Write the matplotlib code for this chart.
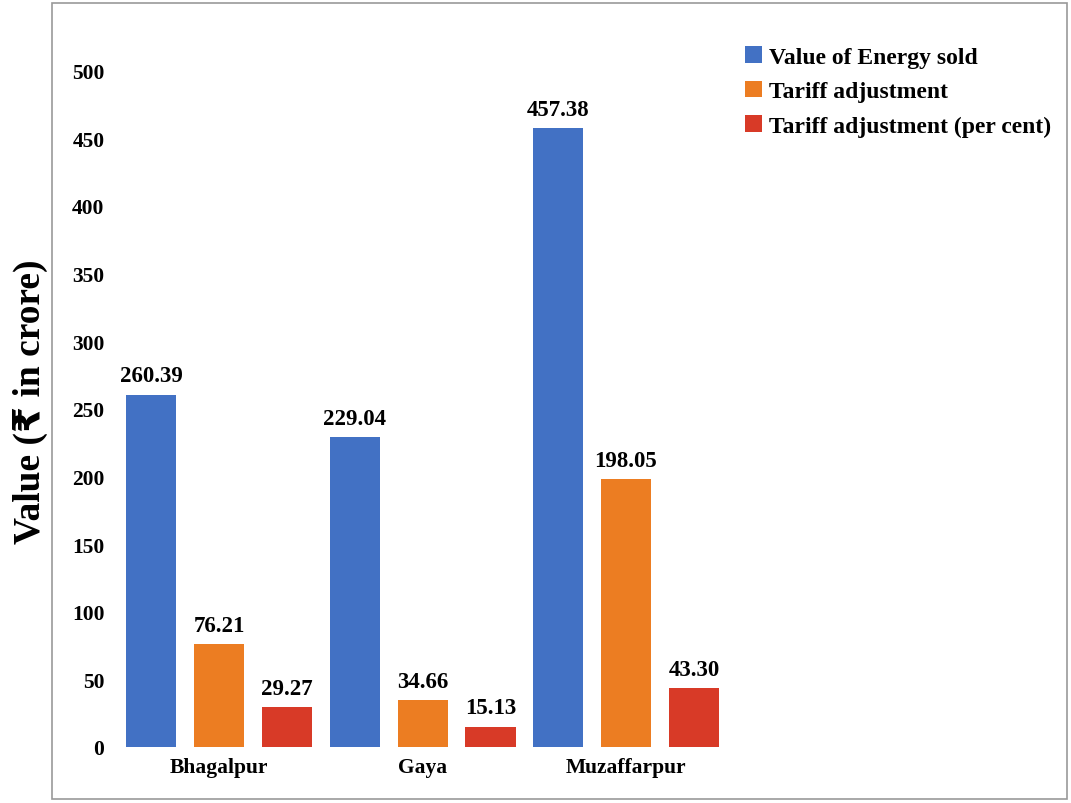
import numpy as np
import matplotlib.pyplot as plt
from matplotlib.patches import Rectangle

districts = ["Bhagalpur", "Gaya", "Muzaffarpur"]
energy_sold = [260.39, 229.04, 457.38]
tariff_adj = [76.21, 34.66, 198.05]
tariff_pct = [29.27, 15.13, 43.30]
series_names = ["Value of Energy sold", "Tariff adjustment",
                "Tariff adjustment (per cent)"]
colors = ["#4271c4", "#ec7d22", "#d83a27"]
yticks = [0, 50, 100, 150, 200, 250, 300, 350, 400, 450, 500]

serif = ["Liberation Serif", "DejaVu Sans"]
plt.rcParams["font.family"] = serif
plt.rcParams["font.weight"] = "bold"

fig = plt.figure(figsize=(10.71, 8.04), dpi=100)
ax = fig.add_axes([110 / 1071, 56 / 804, 950 / 1071, 703.7 / 804])

x = np.arange(len(districts))
width = 0.246
step = 0.334
for k, (vals, name, c) in enumerate(zip([energy_sold, tariff_adj, tariff_pct],
                                        series_names, colors)):
    pos = x + (k - 1) * step
    bars = ax.bar(pos, vals, width, color=c, label=name)
    for b, v in zip(bars, vals):
        ax.annotate(f"{v:.2f}", (b.get_x() + b.get_width() / 2, v),
                    xytext=(0, 6), textcoords="offset points",
                    ha="center", va="bottom", fontsize=16.5, fontweight="bold")

ax.set_xlim(-0.536, 4.133)
ax.set_ylim(0, 520)
ax.set_yticks(yticks)
ax.set_yticklabels([str(t) for t in yticks], fontsize=15.5, fontweight="bold")
ax.set_xticks(x)
ax.set_xticklabels(districts, fontsize=15.5, fontweight="bold")
ax.tick_params(length=0, axis="y", pad=4)
ax.tick_params(length=0, axis="x", pad=7)
for s in ax.spines.values():
    s.set_visible(False)

fig.text(30 / 1071, 1 - 402 / 804, "Value (₹ in crore)", rotation=90,
         ha="center", va="center", fontsize=27, fontweight="bold")

ax.legend(loc="upper left", bbox_to_anchor=(736 / 1071, 1 - 38 / 804),
          bbox_transform=fig.transFigure, frameon=False, fontsize=17,
          handlelength=0.7, handleheight=0.7, handletextpad=0.3,
          labelspacing=0.55, borderaxespad=0)

# outer frame around the plot area
fig.patches.append(Rectangle((52 / 1071, 4 / 804), 1015 / 1071, 796 / 804,
                             transform=fig.transFigure, fill=False,
                             edgecolor="#999999", linewidth=1.2))

fig.savefig("out.png", dpi=100)
